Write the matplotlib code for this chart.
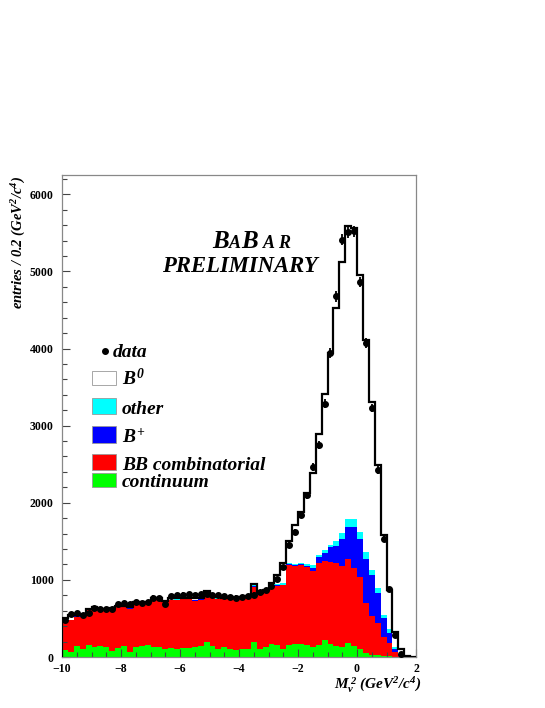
import numpy as np
import matplotlib
matplotlib.use("Agg")
import matplotlib.pyplot as plt
from matplotlib.patches import Rectangle
from matplotlib.lines import Line2D
from matplotlib.ticker import MultipleLocator

plt.rcParams['font.family'] = ['Liberation Serif', 'DejaVu Serif']
plt.rcParams['mathtext.fontset'] = 'custom'
plt.rcParams['mathtext.rm'] = 'Liberation Serif:bold:italic'
plt.rcParams['mathtext.it'] = 'Liberation Serif:bold:italic'
plt.rcParams['mathtext.bf'] = 'Liberation Serif:bold:italic'

# ---- data (60 bins of 0.2 GeV^2/c^4 from -10 to 2) ----
x_min, x_max, n_bins = -10.0, 2.0, 60

continuum = [91, 69, 142, 108, 151, 125, 142, 125, 73, 121,
             142, 69, 125, 142, 151, 134, 125, 99, 112, 108,
             115, 112, 125, 142, 198, 142, 99, 125, 99, 91,
             99, 108, 198, 99, 125, 168, 155, 99, 155, 168,
             168, 155, 134, 155, 220, 168, 147, 125, 177, 142,
             100, 47, 26, 22, 17, 13, 5, 0, 0, 0]

bb_combinatorial = [367, 410, 381, 415, 458, 505, 467, 484, 527, 522,
                    508, 557, 570, 553, 544, 613, 622, 617, 623, 632,
                    632, 638, 605, 603, 583, 628, 651, 625, 651, 669,
                    651, 657, 713, 704, 721, 722, 765, 829, 1037, 1011,
                    1019, 1015, 984, 1058, 1023, 1067, 1066, 1058, 1092, 1007,
                    940, 648, 505, 414, 246, 164, 64, 10, 0, 0]

b_plus = [4, 3, 4, 5, 4, 4, 5, 4, 4, 5,
          5, 4, 5, 5, 4, 5, 5, 6, 5, 5,
          6, 5, 6, 6, 5, 6, 6, 7, 6, 7,
          8, 8, 8, 8, 10, 10, 12, 12, 12, 13,
          13, 15, 32, 82, 109, 190, 229, 341, 411, 531,
          484, 570, 531, 397, 238, 130, 39, 15, 0, 0]

other = [3, 3, 3, 4, 3, 4, 4, 3, 4, 4,
         4, 4, 4, 5, 4, 4, 5, 4, 5, 5,
         5, 5, 5, 5, 6, 5, 5, 6, 5, 6,
         5, 5, 26, 10, 12, 12, 18, 14, 18, 13,
         22, 20, 37, 26, 34, 26, 65, 78, 103, 103,
         91, 99, 65, 57, 43, 52, 26, 10, 0, 0]

b_zero = [40, 59, 15, 18, 4, 4, 7, 9, 22, 8,
          6, 16, 6, 10, 12, 4, 3, 4, 15, 15,
          12, 10, 19, 14, 68, 9, 14, 7, 9, 7,
          12, 7, 5, 5, 5, 48, 112, 259, 280, 505,
          660, 925, 1205, 1568, 2029, 2491, 3022, 3519, 3800, 3777,
          3333, 2742, 2180, 1597, 1036, 509, 196, 65, 10, 0]

data = [480, 560, 566, 540, 566, 640, 617, 625, 620, 690,
        695, 690, 716, 700, 716, 770, 764, 690, 786, 800,
        810, 820, 805, 815, 812, 805, 800, 795, 781, 770,
        775, 785, 810, 846, 868, 920, 1006, 1162, 1451, 1623,
        1840, 2100, 2465, 2746, 3286, 3942, 4676, 5411, 5509, 5518,
        4862, 4071, 3230, 2422, 1524, 877, 285, 35, 0, 0]

legend_labels = ['data', r'$B^{0}$', 'other', r'$B^{+}$', 'BB combinatorial', 'continuum']

# ---- figure ----
W, H = 545, 708
fig = plt.figure(figsize=(W / 100, H / 100), dpi=100)

def fx(px):
    return px / W

def fy(py):
    return 1 - py / H

ax = fig.add_axes([fx(62), fy(657), fx(416) - fx(62), fy(175) - fy(657)])

edges = np.linspace(x_min, x_max, n_bins + 1)
centers = 0.5 * (edges[:-1] + edges[1:])

layers = [(continuum, '#00ff00'), (bb_combinatorial, '#ff0000'),
          (b_plus, '#0000ff'), (other, '#00ffff'), (b_zero, '#ffffff')]
bottom = np.zeros(n_bins)
for vals, col in layers:
    v = np.asarray(vals, dtype=float)
    ax.stairs(bottom + v, edges, baseline=bottom.copy(), fill=True,
              color=col, lw=0)
    bottom = bottom + v

ax.stairs(bottom, edges, baseline=0, fill=False, color='black', lw=1.6, zorder=3)

d = np.asarray(data, dtype=float)
m = d > 0
ax.errorbar(centers[m], d[m], yerr=np.sqrt(d[m]), fmt='o', color='black',
            ms=4, elinewidth=1.3, capsize=0, zorder=4)

ax.set_xlim(x_min, x_max)
ax.set_ylim(0, 6250)
ax.xaxis.set_major_locator(MultipleLocator(2))
ax.xaxis.set_minor_locator(MultipleLocator(0.5))
ax.yaxis.set_major_locator(MultipleLocator(1000))
ax.yaxis.set_minor_locator(MultipleLocator(200))
ax.tick_params(which='both', direction='in', top=False, right=False,
               color='#444444', width=0.8)
ax.tick_params(which='major', length=6)
ax.tick_params(which='minor', length=3.5)
ax.tick_params(axis='y', which='major', pad=6)
ax.tick_params(axis='x', which='major', pad=4)
for lab in ax.get_xticklabels() + ax.get_yticklabels():
    lab.set_fontweight('bold')
    lab.set_fontsize(8.5)
    lab.set_family('Liberation Serif')
for s in ax.spines.values():
    s.set_color('#888888')
    s.set_linewidth(0.9)

# axis labels
fig.text(fx(19), fy(176), r'entries / 0.2 (GeV$^{2}$/c$^{4}$)', rotation=90,
         ha='center', va='top', fontsize=10.5, fontweight='bold', style='italic')
fig.text(fx(421), fy(689), r'$M_{\nu}^{\,2}$ (GeV$^{2}$/c$^{4}$)', ha='right', va='baseline',
         fontsize=11, fontweight='bold', style='italic')

# BaBar logo
big, small = 18, 13
for ch, px, sz in [('B', 212, big), ('A', 229, small), ('B', 241, big),
                   ('A', 263, small), ('R', 278, small)]:
    fig.text(fx(px), fy(248), ch, fontsize=sz, fontweight='bold', style='italic',
             ha='left', va='baseline')
fig.text(fx(162), fy(272), 'PRELIMINARY', fontsize=16.3, fontweight='bold',
         style='italic', ha='left', va='baseline')

# legend
fig.add_artist(Line2D([fx(105)], [fy(351)], marker='o', color='black', ms=4,
                      transform=fig.transFigure))
fig.text(fx(113), fy(357), legend_labels[0], fontsize=14, fontweight='bold',
         style='italic', ha='left', va='baseline')
box_rows = [(b_zero, '#ffffff', 371, 385, legend_labels[1]),
            (other, '#00ffff', 398, 414, legend_labels[2]),
            (b_plus, '#0000ff', 426, 443, legend_labels[3]),
            (bb_combinatorial, '#ff0000', 454, 470, legend_labels[4]),
            (continuum, '#00ff00', 473, 487, legend_labels[5])]
for _, col, top, bot, lab in box_rows:
    fig.add_artist(Rectangle((fx(92), fy(bot)), fx(116) - fx(92), fy(top) - fy(bot),
                             facecolor=col, edgecolor='#999999', lw=0.6,
                             transform=fig.transFigure))
    fig.text(fx(122), fy(bot), lab, fontsize=14, fontweight='bold', style='italic',
             ha='left', va='baseline')

fig.savefig('out.png', dpi=100)
